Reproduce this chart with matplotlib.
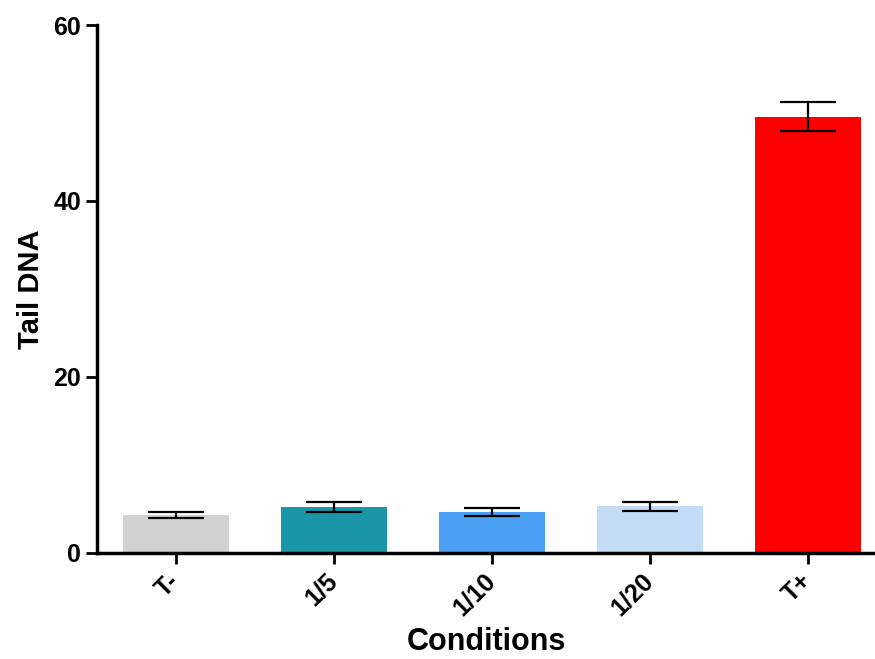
import matplotlib
matplotlib.use("Agg")
import matplotlib.pyplot as plt
import matplotlib.transforms as mtransforms

categories = ["T-", "1/5", "1/10", "1/20", "T+"]
means = [4.3, 5.2, 4.65, 5.3, 49.6]
sems = [0.35, 0.55, 0.5, 0.5, 1.6]
colors = ["#d2d2d2", "#1a96a8", "#4b9ff5", "#c4dbf5", "#ff0000"]
yticks = [0, 20, 40, 60]

plt.rcParams['font.family'] = ['Liberation Sans', 'DejaVu Sans']
plt.rcParams['font.weight'] = 'bold'

fig = plt.figure(figsize=(8.75, 6.59), dpi=100)
ax = fig.add_axes([0.111, 0.161, 0.889, 0.801])

x = list(range(len(categories)))
ax.bar(x, means, width=0.67, color=colors, zorder=2)
ax.errorbar(x, means, yerr=sems, fmt='none', ecolor='black', elinewidth=1.6,
            capsize=20, capthick=1.6, zorder=3)

ax.set_xlim(-0.5, 4.424)
ax.set_ylim(0, 60)
ax.set_yticks(yticks)
ax.set_xticks(x)
ax.set_xticklabels(categories, rotation=45, ha='right', rotation_mode='anchor',
                   fontsize=18, fontweight='bold')
ax.tick_params(axis='y', labelsize=18, width=2, length=8, direction='out')
ax.tick_params(axis='x', width=2, length=8, direction='out')
for lab in ax.get_yticklabels():
    lab.set_fontweight('bold')

offset = mtransforms.ScaledTranslation(-9 / 100, 0, fig.dpi_scale_trans)
for lab in ax.get_xticklabels():
    lab.set_transform(lab.get_transform() + offset)

for s in ['top', 'right']:
    ax.spines[s].set_visible(False)
for s in ['left', 'bottom']:
    ax.spines[s].set_linewidth(2.5)

ax.set_ylabel("Tail DNA", fontsize=21, fontweight='bold', labelpad=6)
ax.set_xlabel("Conditions", fontsize=22, fontweight='bold', labelpad=5)

fig.savefig("out.png", dpi=100)
